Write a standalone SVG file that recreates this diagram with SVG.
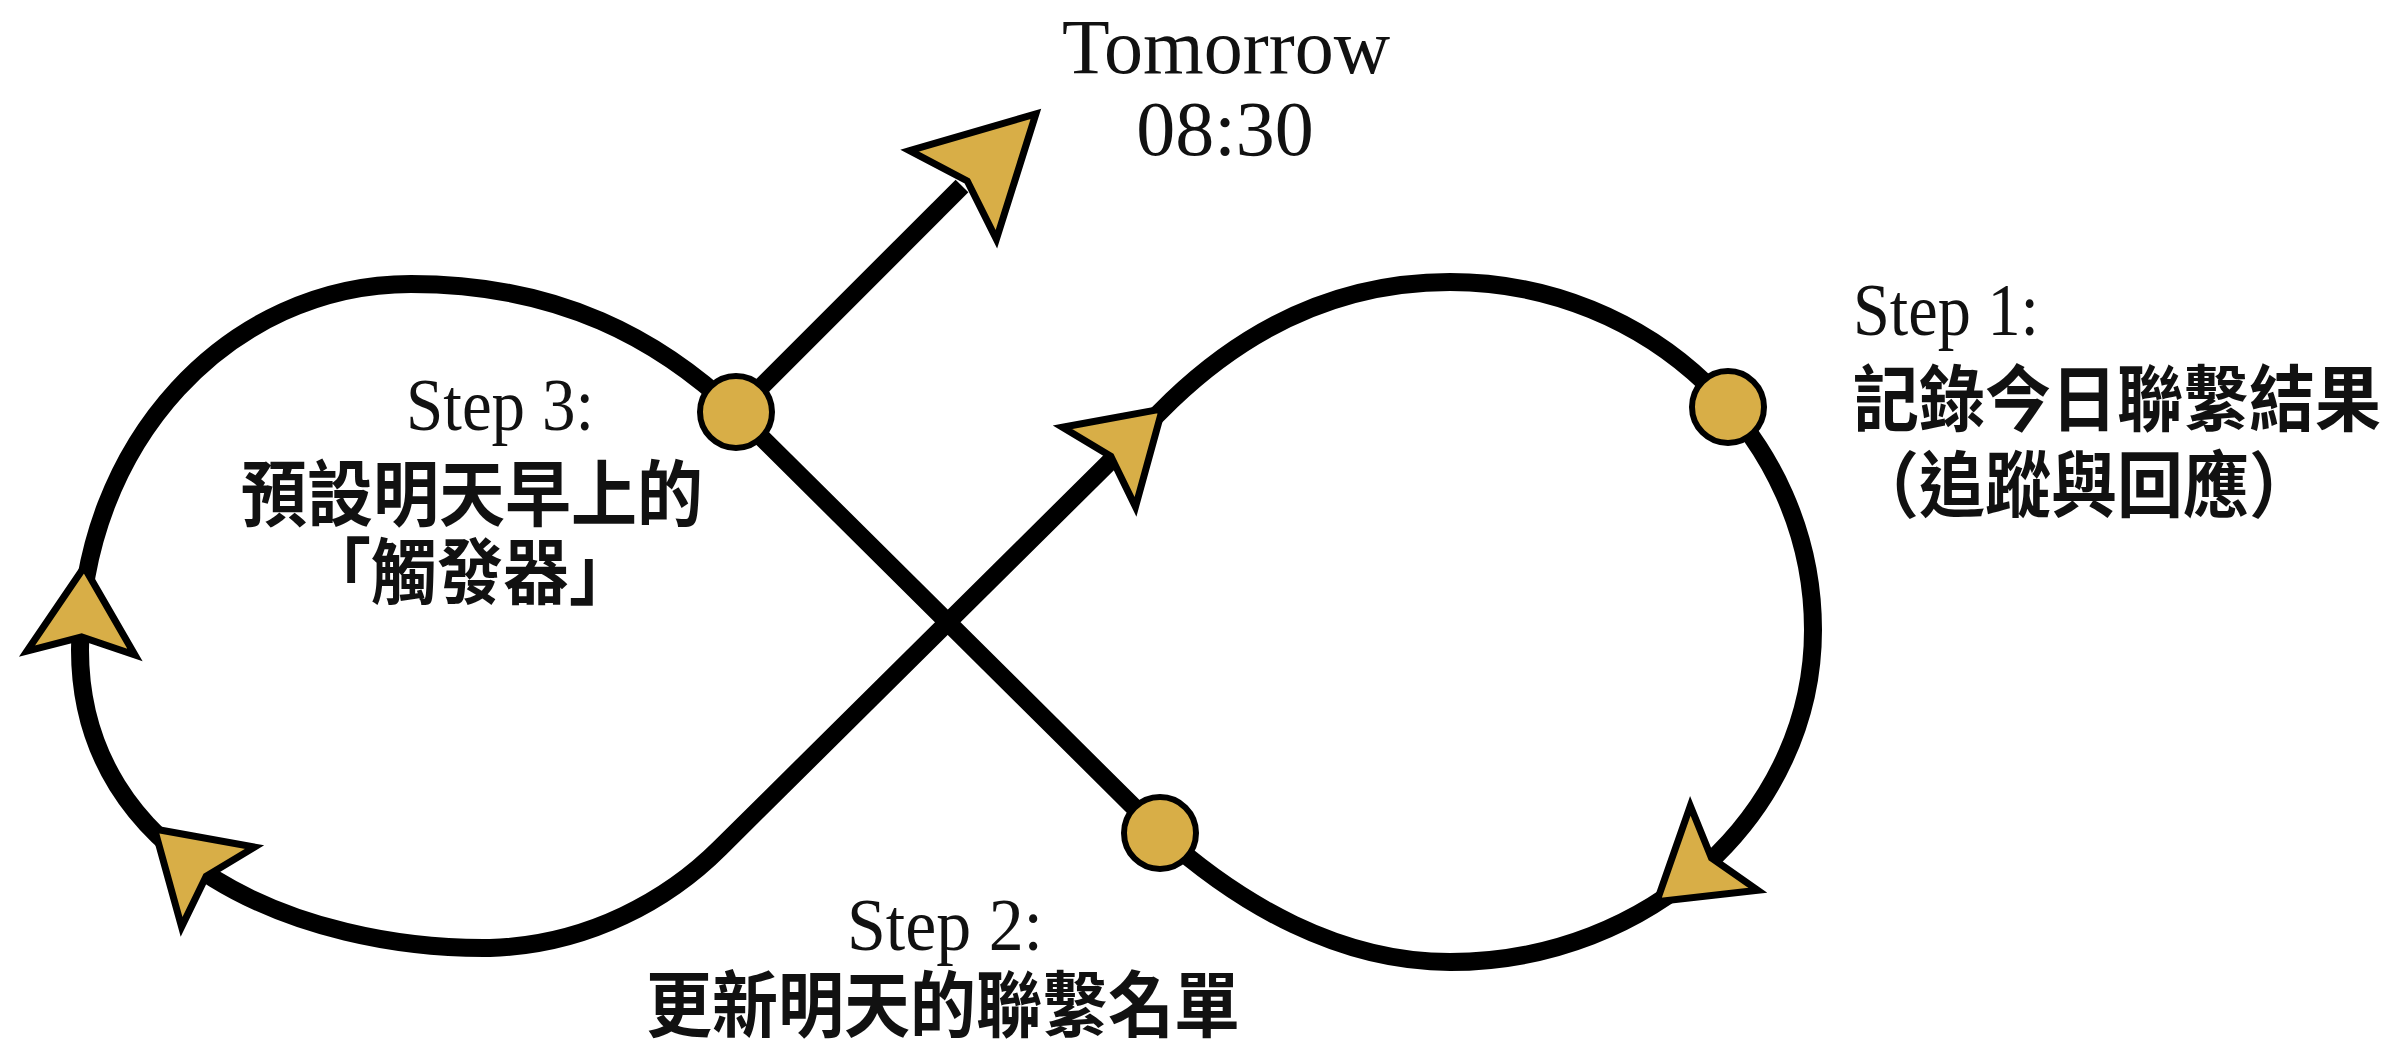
<svg xmlns="http://www.w3.org/2000/svg" xmlns:xlink="http://www.w3.org/1999/xlink" width="2386" height="1048" viewBox="0 0 2386 1048">
  <style>
    .loop { fill: none; stroke: #000; stroke-width: 18; stroke-linejoin: round; stroke-linecap: butt; }
    .head { fill: #D8AE47; stroke: #000; stroke-width: 7; stroke-linejoin: miter; stroke-miterlimit: 10; }
    .dot { fill: #D8AE47; stroke: #000; stroke-width: 6; }
    .lat { font-family: "Liberation Serif", "Times New Roman", serif; font-size: 74px; fill: #111; }
    .big { font-size: 78px; }
    .cjk { font-family: "Noto Sans CJK TC", "Noto Sans CJK SC", sans-serif; font-size: 66px; font-weight: 700; fill: #111; }
  </style>
  <defs>
    <path id="ah" d="M0,-54 L86,0 L0,54 L16,0 Z"/>
    <path id="ahBig" d="M0,-62 L116,0 L0,62 L20,0 Z"/>
  </defs>
  <rect width="2386" height="1048" fill="#fff"/>

  <g id="connectors">
    <path id="loop" class="loop" d="M736,412 L1160,833 C1240,905 1340,962 1450,962 C1650,962 1813,813 1813,630 C1813,438 1650,282 1450,282 C1330,282 1240,335 1172,400 L720,848 C670,898 590,945 490,948 C300,950 80,860 80,650 C80,442 230,284 411,284 C560,284 660,340 736,412 Z"/>
    <path id="to-tomorrow" class="loop" d="M736,412 L962,186"/>
    <use xlink:href="#ah" class="head" transform="translate(1099,467) rotate(-42.5)"/>
    <use xlink:href="#ah" class="head" transform="translate(1724,848) rotate(141.4)"/>
    <use xlink:href="#ah" class="head" transform="translate(81,653) rotate(-87.9)"/>
    <use xlink:href="#ah" class="head" transform="translate(218,887) rotate(-137.6)"/>
    <use xlink:href="#ahBig" class="head" transform="translate(953,195) rotate(-44.4)"/>
  </g>

  <g id="tomorrow">
    <text class="lat big" x="1226" y="73" text-anchor="middle">Tomorrow</text>
    <text class="lat big" x="1225" y="155" text-anchor="middle">08:30</text>
  </g>

  <g id="step1">
    <circle class="dot" cx="1728" cy="407" r="36"/>
    <text class="lat" x="1853" y="335" textLength="186" lengthAdjust="spacingAndGlyphs">Step 1:</text>
    <text class="cjk" transform="translate(1853,425) scale(1,1.09)" x="0" y="0">記錄今日聯繫結果</text>
    <text class="cjk" transform="translate(1853,511) scale(1,1.09)" x="0" y="0">（追蹤與回應）</text>
  </g>

  <g id="step2">
    <circle class="dot" cx="1160" cy="833" r="36"/>
    <text class="lat" x="945" y="950" text-anchor="middle" textLength="196" lengthAdjust="spacingAndGlyphs">Step 2:</text>
    <text class="cjk" transform="translate(943,1031) scale(1,1.09)" x="0" y="0" text-anchor="middle">更新明天的聯繫名單</text>
  </g>

  <g id="step3">
    <circle class="dot" cx="736" cy="412" r="36"/>
    <text class="lat" x="500" y="430" text-anchor="middle" textLength="188" lengthAdjust="spacingAndGlyphs">Step 3:</text>
    <text class="cjk" transform="translate(472,520) scale(1,1.09)" x="0" y="0" text-anchor="middle">預設明天早上的</text>
    <text class="cjk" transform="translate(470,598) scale(1,1.09)" x="0" y="0" text-anchor="middle">「觸發器」</text>
  </g>
</svg>
